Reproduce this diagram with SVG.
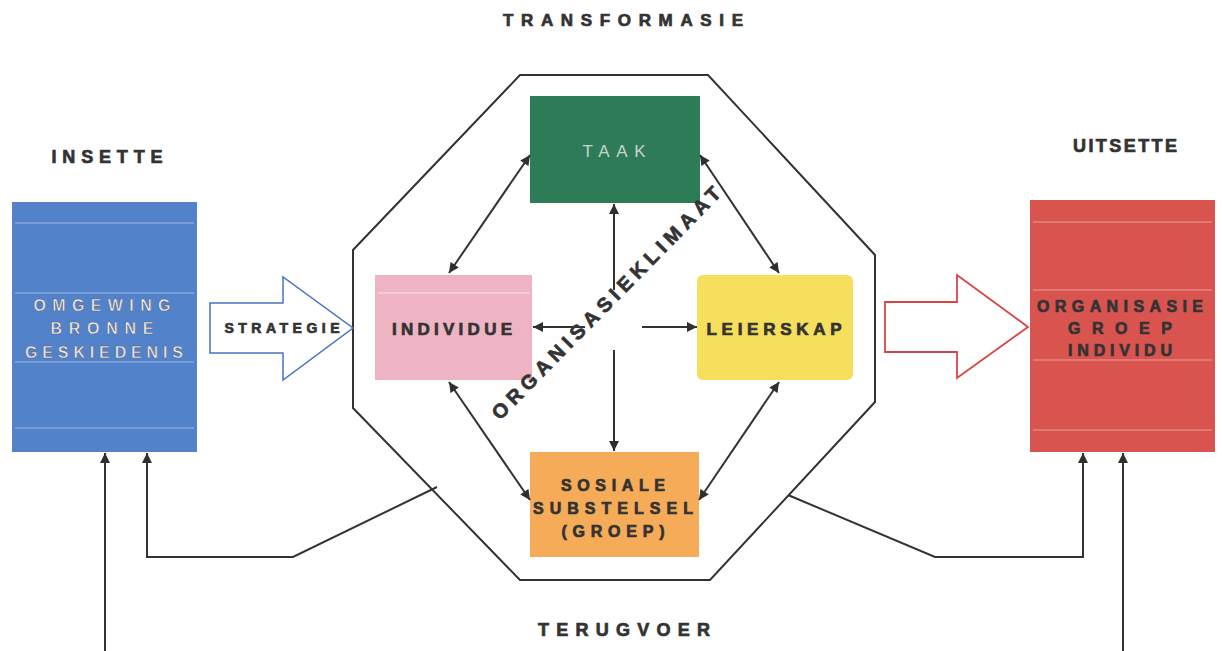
<svg xmlns="http://www.w3.org/2000/svg" width="1222" height="651" viewBox="0 0 1222 651">
<defs>
<marker id="ah" viewBox="0 0 10 10" refX="10" refY="5" markerWidth="11" markerHeight="10" markerUnits="userSpaceOnUse" orient="auto-start-reverse">
<path d="M0,0 L10,5 L0,10 Z" fill="#2f2f2f"/>
</marker>
<style>
.t{font-family:"Liberation Sans",Arial,sans-serif;font-weight:bold;fill:#333;stroke:#333;stroke-width:0.7;text-anchor:middle}
.w{font-family:"Liberation Sans",Arial,sans-serif;font-weight:bold;fill:#eeeeee;stroke:#5d6070;stroke-width:0.5;text-anchor:middle}
.ln{fill:none;stroke:#333;stroke-width:2}
.ar{fill:none;stroke:#333;stroke-width:2;marker-end:url(#ah)}
.dar{fill:none;stroke:#333;stroke-width:2;marker-end:url(#ah);marker-start:url(#ah)}
.hl{stroke:#ffffff;stroke-opacity:0.22;stroke-width:2}
</style>
</defs>
<rect width="1222" height="651" fill="#ffffff"/>

<g id="labels">
<text class="t" x="623" y="26" font-size="17" textLength="240" lengthAdjust="spacing">TRANSFORMASIE</text>
<text class="t" x="107" y="163" font-size="18" textLength="111" lengthAdjust="spacing">INSETTE</text>
<text class="t" x="1125" y="152" font-size="18" textLength="104" lengthAdjust="spacing">UITSETTE</text>
<text class="t" x="624" y="636" font-size="18" textLength="172" lengthAdjust="spacing">TERUGVOER</text>
</g>

<g id="octagon">
<polygon points="520,75 708,75 875,255 875,402 710,580 520,580 353,408 353,250" fill="none" stroke="#333" stroke-width="2"/>
</g>

<g id="insette">
<rect x="12" y="202" width="185" height="250" fill="#5282c9"/>
<line class="hl" x1="15" y1="223" x2="194" y2="223"/>
<line class="hl" x1="15" y1="293" x2="194" y2="293"/>
<line class="hl" x1="15" y1="362" x2="194" y2="362"/>
<line class="hl" x1="15" y1="428" x2="194" y2="428"/>
<text class="w" x="102" y="311" font-size="16" textLength="137" lengthAdjust="spacing">OMGEWING</text>
<text class="w" x="102" y="334" font-size="16" textLength="103" lengthAdjust="spacing">BRONNE</text>
<text class="w" x="104" y="358" font-size="16" textLength="158" lengthAdjust="spacing">GESKIEDENIS</text>
</g>

<g id="strategie">
<polygon points="210,303 283,303 283,277 353,328 283,380 283,353 210,353" fill="#ffffff" stroke="#4a72c0" stroke-width="1.5"/>
<text class="t" x="282" y="333" font-size="14" textLength="115" lengthAdjust="spacing">STRATEGIE</text>
</g>

<g id="taak">
<rect x="530" y="96" width="170" height="107" fill="#2e7b58"/>
<text x="614" y="157" font-family="Liberation Sans,Arial,sans-serif" font-size="17" fill="#c8d2cc" text-anchor="middle" textLength="63" lengthAdjust="spacing">TAAK</text>
</g>

<g id="individue">
<rect x="375" y="275" width="157" height="105" fill="#efb4c4"/>
<line x1="378" y1="293" x2="530" y2="293" stroke="#ffffff" stroke-opacity="0.4" stroke-width="1.5"/>
<text class="t" x="452" y="335" font-size="17" textLength="120" lengthAdjust="spacing">INDIVIDUE</text>
</g>

<g id="leierskap">
<rect x="697" y="275" width="156" height="105" rx="6" fill="#f7df5e"/>
<text class="t" x="774" y="335" font-size="17" textLength="135" lengthAdjust="spacing">LEIERSKAP</text>
</g>

<g id="sosiale">
<rect x="530" y="452" width="169" height="105" fill="#f5ab58"/>
<text class="t" x="613" y="491" font-size="16" textLength="104" lengthAdjust="spacing">SOSIALE</text>
<text class="t" x="613" y="514" font-size="16" textLength="160" lengthAdjust="spacing">SUBSTELSEL</text>
<text class="t" x="613" y="537" font-size="16" textLength="103" lengthAdjust="spacing">(GROEP)</text>
</g>

<g id="uitsette-arrow">
<polygon points="885,302 957,302 957,275 1028,327 957,378 957,352 885,352" fill="#ffffff" stroke="#d94545" stroke-width="1.8"/>
</g>

<g id="uitsette">
<rect x="1030" y="200" width="185" height="252" fill="#d9534f"/>
<line class="hl" x1="1033" y1="222" x2="1212" y2="222"/>
<line class="hl" x1="1033" y1="290" x2="1212" y2="290"/>
<line class="hl" x1="1033" y1="360" x2="1212" y2="360"/>
<line class="hl" x1="1033" y1="430" x2="1212" y2="430"/>
<text class="t" x="1120" y="312" font-size="16" textLength="166" lengthAdjust="spacing">ORGANISASIE</text>
<text class="t" x="1120" y="334" font-size="16" textLength="104" lengthAdjust="spacing">GROEP</text>
<text class="t" x="1120" y="356" font-size="16" textLength="104" lengthAdjust="spacing">INDIVIDU</text>
</g>

<g id="connectors">
<line class="dar" x1="530" y1="155" x2="449" y2="273"/>
<line class="dar" x1="700" y1="155" x2="779" y2="273"/>
<line class="ar" x1="614" y1="290" x2="614" y2="204"/>
<line class="ar" x1="585" y1="327" x2="533" y2="327"/>
<line class="ar" x1="642" y1="327" x2="697" y2="327"/>
<line class="ar" x1="614" y1="350" x2="614" y2="451"/>
<line class="dar" x1="449" y1="382" x2="530" y2="500"/>
<line class="dar" x1="779" y1="382" x2="699" y2="500"/>
<polyline class="ar" points="437,487 293,557 147,557 147,453"/>
<line class="ar" x1="105" y1="651" x2="105" y2="453"/>
<polyline class="ar" points="788,495 935,557 1083,557 1083,453"/>
<line class="ar" x1="1123" y1="651" x2="1123" y2="453"/>
</g>

<g id="klimaat">
<text class="t" x="0" y="0" font-size="20" textLength="317" lengthAdjust="spacing" dominant-baseline="central" transform="translate(606,303) rotate(-45.5)">ORGANISASIEKLIMAAT</text>
</g>
</svg>
